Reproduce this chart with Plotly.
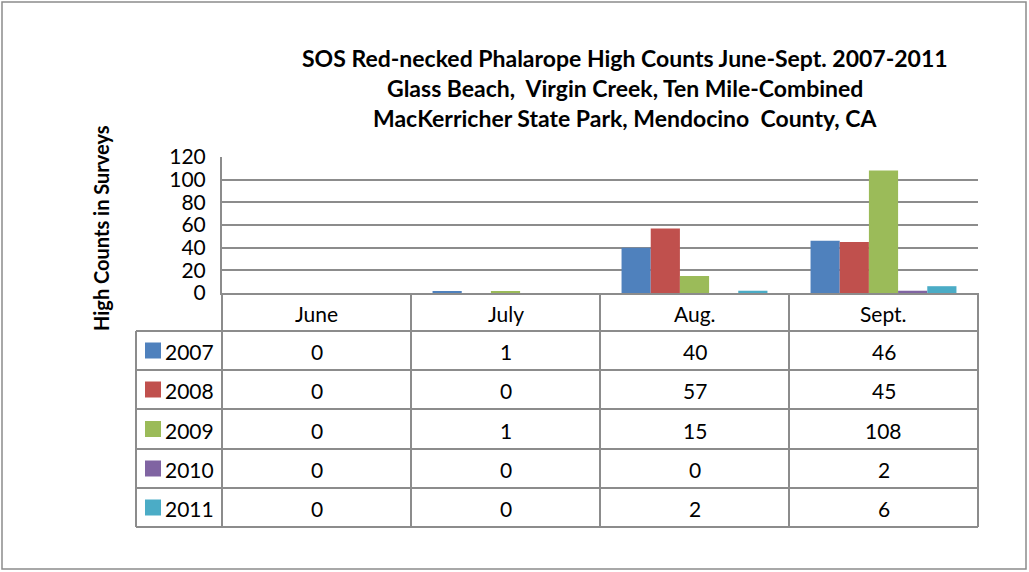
import plotly.graph_objects as go

# Data
months = ["June", "July", "Aug.", "Sept."]
years = ["2007", "2008", "2009", "2010", "2011"]
counts_2007 = [0, 1, 40, 46]
counts_2008 = [0, 0, 57, 45]
counts_2009 = [0, 1, 15, 108]
counts_2010 = [0, 0, 0, 2]
counts_2011 = [0, 0, 2, 6]
series = [counts_2007, counts_2008, counts_2009, counts_2010, counts_2011]
colors = ["#4F81BD", "#C0504D", "#9BBB59", "#8064A2", "#4BACC6"]
y_ticks = [0, 20, 40, 60, 80, 100, 120]

W, H = 1029, 572
# plot area in pixels
PL, PR, PT, PB = 222, 978, 157, 293
FONT = "Lato"
GRID = "#8C8C8C"
TXT = 21


def px(x):
    return (x - PL) / (PR - PL)


def py(y):
    return (PB - y) / (PB - PT)


fig = go.Figure()
for yr, vals, c in zip(years, series, colors):
    fig.add_trace(go.Bar(x=months, y=vals, name=yr, marker_color=c,
                         marker_line_width=0, showlegend=False))

shapes = []
annotations = []

# outer chart border
shapes.append(dict(type="rect", xref="paper", yref="paper",
                   x0=px(2), x1=px(1026), y0=py(2), y1=py(569),
                   line=dict(color="#8C8C8C", width=1.5), layer="below"))

# data table geometry
col_edges = [PL + i * (PR - PL) / len(months) for i in range(len(months) + 1)]
row_edges = [293, 331, 370, 409, 449, 488, 527]
TL = 136

# horizontal table lines
for i, ry in enumerate(row_edges):
    if i == 0:
        continue
    shapes.append(dict(type="line", xref="paper", yref="paper",
                       x0=px(TL), x1=px(PR), y0=py(ry), y1=py(ry),
                       line=dict(color=GRID, width=2)))
# vertical table lines
for cx in col_edges:
    shapes.append(dict(type="line", xref="paper", yref="paper",
                       x0=px(cx), x1=px(cx), y0=py(PB), y1=py(row_edges[-1]),
                       line=dict(color=GRID, width=2)))
shapes.append(dict(type="line", xref="paper", yref="paper",
                   x0=px(TL), x1=px(TL), y0=py(row_edges[1]), y1=py(row_edges[-1]),
                   line=dict(color=GRID, width=2)))

# header row: month names
for j, m in enumerate(months):
    cx = (col_edges[j] + col_edges[j + 1]) / 2
    annotations.append(dict(x=px(cx), y=py((row_edges[0] + row_edges[1]) / 2 + 1),
                            xref="paper", yref="paper", text=m, showarrow=False,
                            font=dict(family=FONT, size=TXT, color="#000"),
                            xanchor="center", yanchor="middle"))

# value rows with legend keys
for i, (yr, vals, c) in enumerate(zip(years, series, colors)):
    ry = (row_edges[i + 1] + row_edges[i + 2]) / 2
    shapes.append(dict(type="rect", xref="paper", yref="paper",
                       x0=px(145), x1=px(161), y0=py(ry - 8), y1=py(ry + 8),
                       fillcolor=c, line=dict(width=0)))
    annotations.append(dict(x=px(163), y=py(ry + 1), xref="paper", yref="paper",
                            text=yr, showarrow=False,
                            font=dict(family=FONT, size=TXT, color="#000"),
                            xanchor="left", yanchor="middle"))
    for j, v in enumerate(vals):
        cx = (col_edges[j] + col_edges[j + 1]) / 2
        annotations.append(dict(x=px(cx), y=py(ry + 1), xref="paper", yref="paper",
                                text=str(v), showarrow=False,
                                font=dict(family=FONT, size=TXT, color="#000"),
                                xanchor="center", yanchor="middle"))

# title
title_lines = ["SOS Red-necked Phalarope High Counts June-Sept. 2007-2011",
               "Glass Beach,  Virgin Creek, Ten Mile-Combined",
               "MacKerricher State Park, Mendocino  County, CA"]
for k, (line, ty) in enumerate(zip(title_lines, [58, 88, 118])):
    annotations.append(dict(x=px(625), y=py(ty), xref="paper", yref="paper",
                            text="<b>" + line + "</b>", showarrow=False,
                            font=dict(family=FONT, size=23, color="#000"),
                            xanchor="center", yanchor="middle"))

# y-axis title
annotations.append(dict(x=px(101), y=py(228), xref="paper", yref="paper",
                        text="<b>High Counts in Surveys</b>", showarrow=False,
                        textangle=-90,
                        font=dict(family=FONT, size=20, color="#000"),
                        xanchor="center", yanchor="middle"))

fig.update_layout(
    width=W, height=H,
    margin=dict(l=PL, r=W - PR, t=PT, b=H - PB, pad=0),
    paper_bgcolor="white", plot_bgcolor="white",
    barmode="group", bargap=0.228, bargroupgap=0,
    shapes=shapes, annotations=annotations,
    xaxis=dict(showticklabels=False, ticks="", showgrid=False,
               showline=True, linecolor=GRID, linewidth=2, zeroline=False),
    yaxis=dict(range=[0, 120], tickvals=y_ticks, showgrid=True,
               gridcolor=GRID, gridwidth=2, showline=True, linecolor=GRID,
               linewidth=2, zeroline=False, ticks="", ticklabelstandoff=10,
               tickfont=dict(family=FONT, size=TXT, color="#000")),
    font=dict(family=FONT),
)

fig.write_html("out.html")
